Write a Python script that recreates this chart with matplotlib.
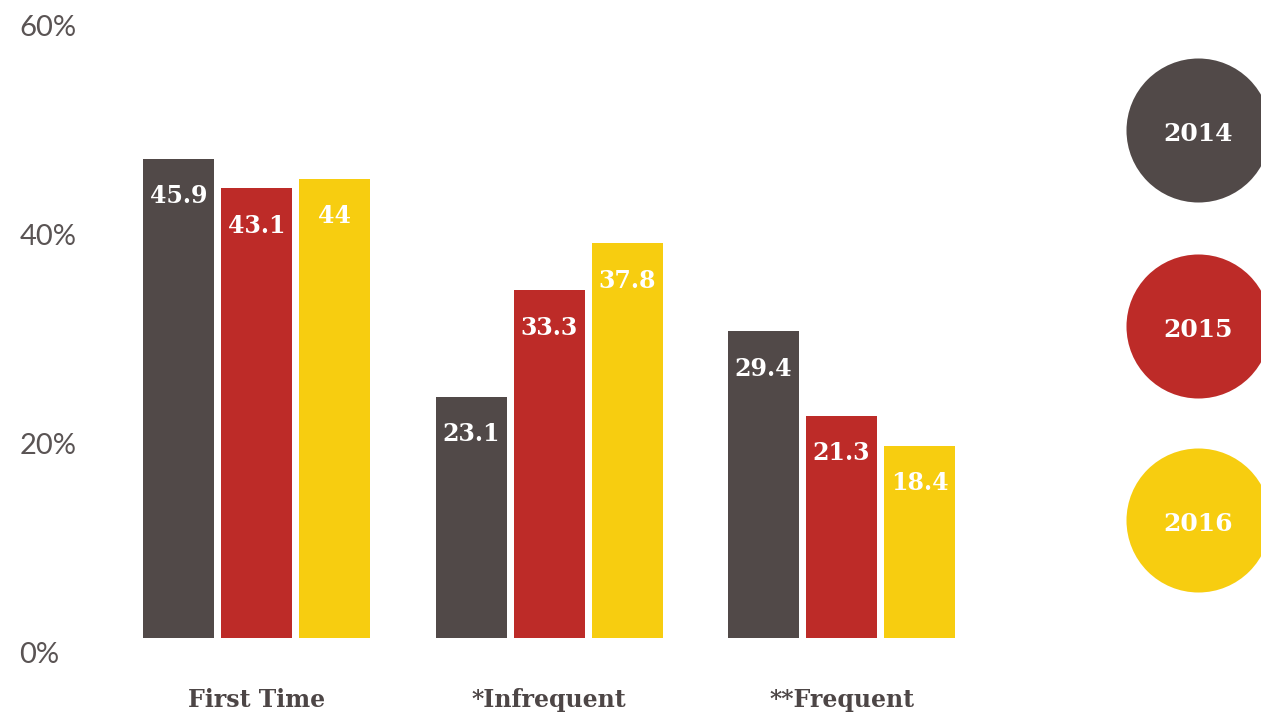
import matplotlib
matplotlib.use('Agg')
import matplotlib.pyplot as plt
import numpy as np

# ── Data ─────────────────────────────────────────────────────
categories = ['First Time', '*Infrequent', '**Frequent']
years = ['2014', '2015', '2016']
values_2014 = [45.9, 23.1, 29.4]
values_2015 = [43.1, 33.3, 21.3]
values_2016 = [44.0, 37.8, 18.4]
value_labels_2014 = ['45.9', '23.1', '29.4']
value_labels_2015 = ['43.1', '33.3', '21.3']
value_labels_2016 = ['44', '37.8', '18.4']
yticks = [0, 20, 40, 60]

# ── Style ────────────────────────────────────────────────────
COLORS = ['#514948', '#bd2b28', '#f7cd10']
TEXT = '#4d4646'
SLAB = dict(family='DejaVu Serif', fontweight='bold')

fig = plt.figure(figsize=(12.61, 7.17), dpi=100, facecolor='white')
ax = fig.add_axes([0, 0, 1, 1])
ax.set_xlim(-0.877, 3.434)
ax.set_ylim(-7.57, 61.11)
ax.axis('off')

x = np.arange(len(categories))
width = 0.2427
step = 0.2667
series = [values_2014, values_2015, values_2016]
labels = [value_labels_2014, value_labels_2015, value_labels_2016]

for j, (vals, labs) in enumerate(zip(series, labels)):
    xs = x + (j - 1) * step
    ax.bar(xs, vals, width=width, color=COLORS[j], linewidth=0)
    for xi, v, lab in zip(xs, vals, labs):
        ax.text(xi, v - 3.6, lab, ha='center', va='center', color='white',
                fontsize=17, **SLAB)

# category labels
for xi, cat in zip(x, categories):
    ax.text(xi, -5.9, cat, ha='center', va='center', color=TEXT,
            fontsize=17, **SLAB)

# y tick labels (sit a little below their gridline value)
for t in yticks:
    ax.text(-0.81, t - 1.6, f'{t}%', ha='left', va='center', color='#5a5454',
            fontsize=21, family='Lato', fontweight='normal')

# legend circles
legend_y = [0.8187, 0.5453, 0.2748]
for yy, yr, c in zip(legend_y, years, COLORS):
    ax.scatter([0.950], [yy], s=10752, color=c, transform=ax.transAxes,
               clip_on=False, linewidths=0)
    ax.text(0.950, yy - 0.006, yr, transform=ax.transAxes, ha='center',
            va='center', color='white', fontsize=18, **SLAB)

plt.savefig('out.png', dpi=100, facecolor='white')
plt.close()
